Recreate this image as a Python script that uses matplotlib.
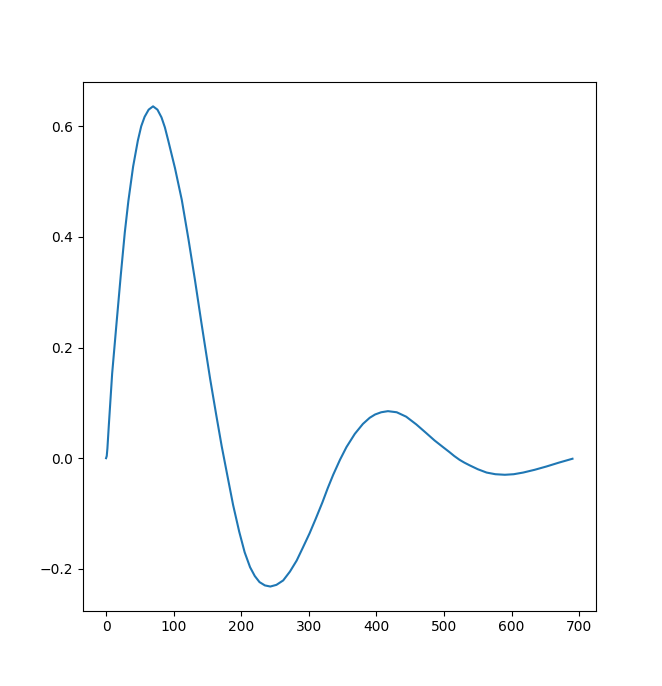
import numpy as np
import matplotlib
matplotlib.use('Agg')
import matplotlib.pyplot as plt

# values
x = [0, 1, 2, 4, 9, 15.4, 21.7, 27.7, 33, 40, 47, 52, 57, 63, 69.5, 76, 82,
     87, 92, 102, 112, 122, 131.5, 141, 148, 154, 163, 171, 180.5, 188, 197,
     205, 213, 220, 227, 235, 243, 252, 262, 272, 282, 291, 301, 310, 320,
     328, 336, 346, 355.6, 368, 380, 390, 398, 407, 417, 430, 444, 459, 474,
     486, 498.5, 508, 515, 523, 530, 538, 550, 563, 576, 590, 603, 617, 634,
     651.5, 670, 690]
y = [0.0, 0.004, 0.018, 0.058, 0.153, 0.243, 0.330, 0.408, 0.465, 0.527,
     0.574, 0.600, 0.617, 0.630, 0.636, 0.630, 0.616, 0.598, 0.574, 0.524,
     0.467, 0.395, 0.322, 0.245, 0.19, 0.143, 0.078, 0.022, -0.038, -0.085,
     -0.133, -0.170, -0.197, -0.213, -0.224, -0.230, -0.232, -0.229, -0.221,
     -0.205, -0.185, -0.162, -0.136, -0.110, -0.080, -0.054, -0.030, -0.003,
     0.020, 0.044, 0.062, 0.073, 0.079, 0.083, 0.085, 0.083, 0.075, 0.061,
     0.045, 0.032, 0.020, 0.011, 0.004, -0.003, -0.008, -0.013, -0.020,
     -0.026, -0.029, -0.030, -0.029, -0.026, -0.021, -0.015, -0.008, -0.001]

fig = plt.figure(figsize=(6.62, 6.86), dpi=100)
ax = fig.add_subplot(111)
ax.plot(x, y)
fig.savefig('out.png', dpi=100)
